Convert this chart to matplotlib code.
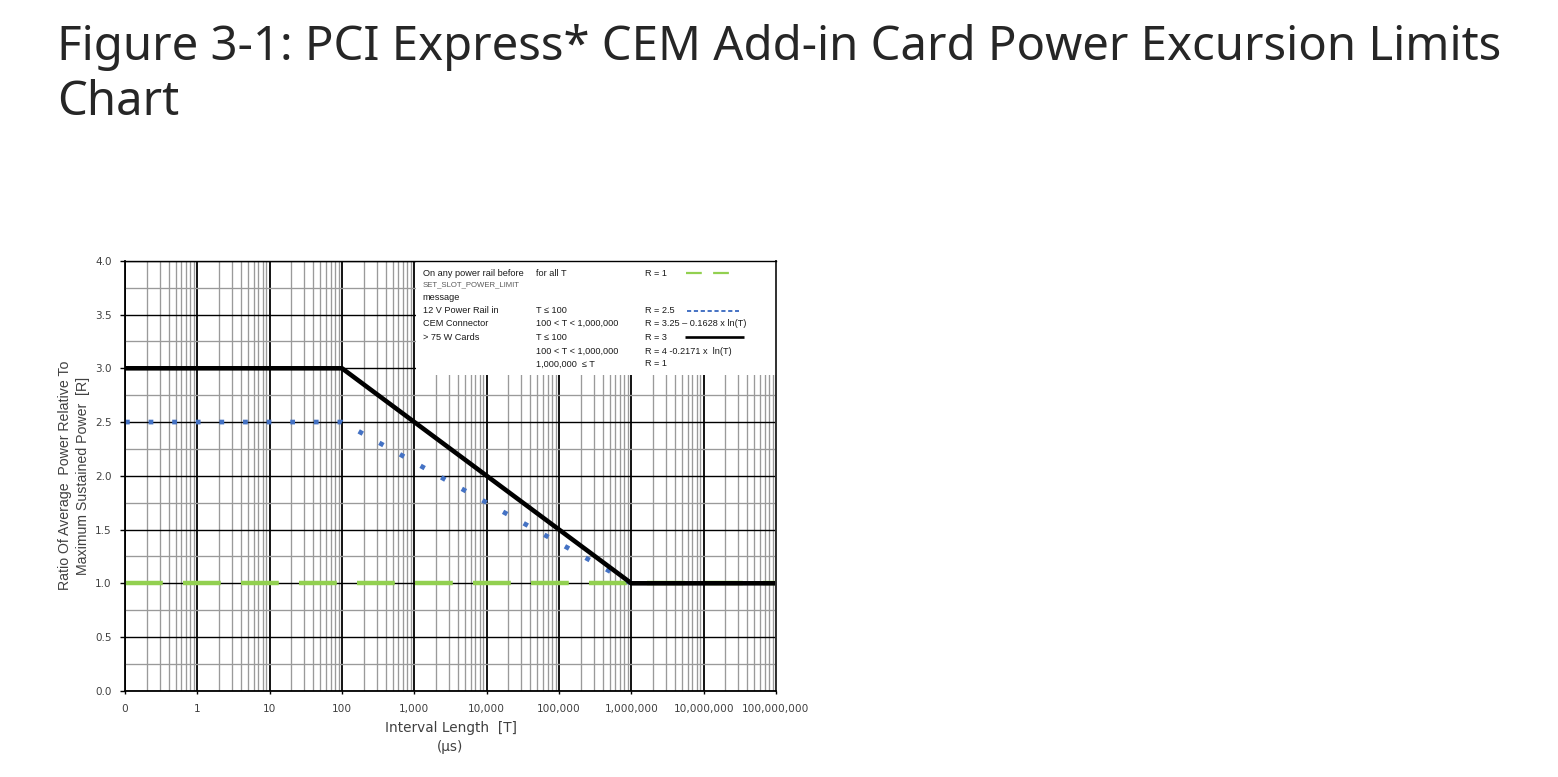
import numpy as np
import matplotlib
matplotlib.use("Agg")
import matplotlib.pyplot as plt
from matplotlib.patches import Rectangle

# ---------------- data ----------------
x_ticks = [0.1, 1, 10, 100, 1e3, 1e4, 1e5, 1e6, 1e7, 1e8]
x_tick_labels = ["0", "1", "10", "100", "1,000", "10,000", "100,000",
                 "1,000,000", "10,000,000", "100,000,000"]
y_ticks = [0.0, 0.5, 1.0, 1.5, 2.0, 2.5, 3.0, 3.5, 4.0]
y_tick_labels = ["0.0", "0.5", "1.0", "1.5", "2.0", "2.5", "3.0", "3.5", "4.0"]

# any rail before SET_SLOT_POWER_LIMIT (green)
T_green = [0.1, 1e8]
R_green = [1.0, 1.0]
# 12 V rail in CEM connector (blue dotted)
T_blue = [0.1, 100, 1e6]
R_blue = [2.5, 2.5, 1.0]
# > 75 W cards (black)
T_black = [0.1, 100, 1e6, 1e8]
R_black = [3.0, 3.0, 1.0, 1.0]

legend_col1 = ["On any power rail before", "SET_SLOT_POWER_LIMIT", "message",
               "12 V Power Rail in", "CEM Connector", "> 75 W Cards", "", ""]
legend_col2 = ["for all T", "", "", "T \u2264 100", "100 < T < 1,000,000",
               "T \u2264 100", "100 < T < 1,000,000", "1,000,000  \u2264 T"]
legend_col3 = ["R = 1", "", "", "R = 2.5", "R = 3.25 \u2013 0.1628 x ln(T)",
               "R = 3", "R = 4 -0.2171 x  ln(T)", "R = 1"]

title_line1 = "Figure 3-1: PCI Express* CEM Add-in Card Power Excursion Limits"
title_line2 = "Chart"

GREEN = "#92D050"
BLUE = "#4472C4"

# ---------------- figure ----------------
W, H = 1558, 777
fig = plt.figure(figsize=(W / 100, H / 100), dpi=100)
fig.patch.set_facecolor("white")

ax = fig.add_axes([125 / W, 1 - 690.8 / H, 651 / W, 430 / H])
ax.set_xscale("log")
ax.set_xlim(0.1, 1e8)
ax.set_ylim(0, 4)

ax.set_xticks(x_ticks)
ax.set_xticklabels(x_tick_labels)
minor_x = [m * 10.0 ** e for e in range(-1, 8) for m in range(2, 10)]
ax.set_xticks(minor_x, minor=True)
ax.set_xticklabels([], minor=True)
ax.set_yticks(y_ticks)
ax.set_yticklabels(y_tick_labels)
ax.set_yticks(np.arange(0, 4.01, 0.25), minor=True)

ax.set_axisbelow(True)
ax.grid(which="minor", axis="both", color="#9a9a9a", lw=0.95)
ax.grid(which="major", axis="x", color="black", lw=1.3)
ax.grid(which="major", axis="y", color="black", lw=1.0)

ax.tick_params(which="minor", length=0)
ax.tick_params(axis="y", which="major", direction="out", length=3.5, width=1.0,
               color="black", labelcolor="#404040", labelsize=7.5, pad=6)
ax.tick_params(axis="x", which="major", direction="out", length=2.5, width=1.0,
               color="black", labelcolor="#404040", labelsize=7.6, pad=7)

for s in ["left", "bottom"]:
    ax.spines[s].set_color("black")
    ax.spines[s].set_linewidth(1.3)
ax.spines["top"].set_color("black")
ax.spines["top"].set_linewidth(1.0)
ax.spines["right"].set_color("#303030")
ax.spines["right"].set_linewidth(1.4)
for s in ax.spines.values():
    s.set_zorder(5)

# series
ax.plot(T_green, R_green, color=GREEN, lw=3.2, dashes=(8.5, 4.55),
        dash_capstyle="butt", zorder=2.0)
ax.plot(T_blue, R_blue, color=BLUE, lw=3.4, dashes=(1.0, 4.0),
        dash_capstyle="butt", zorder=2.2)
ax.plot(T_black, R_black, color="black", lw=3.3, solid_joinstyle="miter",
        solid_capstyle="butt", zorder=2.4)

# legend box (white panel in the upper right)
ax.add_patch(Rectangle((0.4475, 0.7344), 1 - 0.4475, 1 - 0.7344,
                       transform=ax.transAxes, facecolor="white",
                       edgecolor="none", zorder=3))

row_y = [0.9716, 0.9449, 0.9142, 0.8833, 0.8547, 0.8221, 0.7902, 0.7600]
col_x = [0.4573, 0.6313, 0.7988]
LFONT = ["Liberation Sans", "DejaVu Sans"]
for i, y in enumerate(row_y):
    for cx, col in zip(col_x, [legend_col1, legend_col2, legend_col3]):
        txt = col[i]
        if not txt:
            continue
        small = (txt == "SET_SLOT_POWER_LIMIT")
        ax.text(cx, y, txt, transform=ax.transAxes, ha="left", va="center",
                fontsize=5.6 if small else 6.6, family=LFONT,
                color="#595959" if small else "#1a1a1a", zorder=4)

# legend samples
ax.plot([0.8618, 0.932], [row_y[0]] * 2, transform=ax.transAxes, color=GREEN,
        lw=1.6, dashes=(7.1, 5.1), dash_capstyle="butt", zorder=4, clip_on=False)
ax.plot([0.8628, 0.9436], [row_y[3]] * 2, transform=ax.transAxes, color=BLUE,
        lw=1.4, dashes=(2.15, 1.38), dash_capstyle="butt", zorder=4, clip_on=False)
ax.plot([0.8602, 0.9508], [row_y[5]] * 2, transform=ax.transAxes, color="black",
        lw=1.9, solid_capstyle="butt", zorder=4, clip_on=False)

# axis labels
fig.text(74 / W, 1 - 475.8 / H,
         "Ratio Of Average  Power Relative To\nMaximum Sustained Power  [R]",
         rotation=90, ha="center", va="center", multialignment="center",
         fontsize=10.2, family=LFONT, color="#404040", linespacing=1.3)
fig.text(450.5 / W, 1 - 728.3 / H, "Interval Length  [T]", ha="center",
         va="center", fontsize=9.8, color="#404040")
fig.text(450.5 / W, 1 - 746.7 / H, "(\u00b5s)", ha="center", va="center",
         fontsize=9.8, color="#404040")

# title
TFONT = ["Noto Sans", "DejaVu Sans"]
t1 = fig.text(56.7 / W, 1 - 60 / H, title_line1, fontsize=33, family=TFONT,
              color="#262626", ha="left", va="baseline")
fig.canvas.draw()
bb = t1.get_window_extent(renderer=fig.canvas.get_renderer())
fs = 33 * (1503 - 56.7) / bb.width
t1.set_fontsize(fs)
fig.text(56.7 / W, 1 - 115 / H, title_line2, fontsize=fs, family=TFONT,
         color="#262626", ha="left", va="baseline")

fig.savefig("out.png", dpi=100, facecolor="white")
